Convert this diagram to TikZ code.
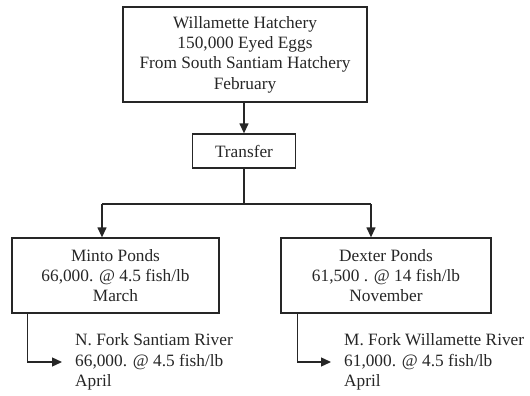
\documentclass[tikz,border=0pt]{standalone}
\usepackage{fontspec}
\setmainfont{Liberation Serif}
\usetikzlibrary{arrows.meta}
\begin{document}
\begin{tikzpicture}[x=1pt,y=1pt,
  font=\fontsize{17.3}{20.3}\selectfont,
  box/.style={draw=black!85, line width=1.3pt, align=center, inner sep=0pt, text=black!85},
  ltxt/.style={align=left, inner xsep=13pt, inner ysep=0pt, anchor=west, text=black!85},
  link/.style={draw=black!85, line width=1.3pt},
  arr/.style={link, -{Triangle[length=10pt,width=9pt]}}]
  \useasboundingbox (0,0) rectangle (530,-396);

  % hatchery and transfer
  \node[box, minimum width=244, minimum height=95] (hatch) at (245,-54.5)
    {Willamette Hatchery\\150,000 Eyed Eggs\\From South Santiam Hatchery\\February};
  \node[box, minimum width=103, minimum height=34] (transfer) at (244,-151) {Transfer};

  % rearing ponds
  \node[box, minimum width=207, minimum height=75] (minto) at (115.5,-275.5)
    {Minto Ponds\\66,000. @ 4.5 fish/lb\\March};
  \node[box, minimum width=210, minimum height=75] (dexter) at (386,-275.5)
    {Dexter Ponds\\61,500 . @ 14 fish/lb\\November};

  % release sites
  \node[ltxt] (nfork) at (62,-362) {N. Fork Santiam River\\66,000. @ 4.5 fish/lb\\April};
  \node[ltxt] (mfork) at (331,-362) {M. Fork Willamette River\\61,000. @ 4.5 fish/lb\\April};

  % split points
  \coordinate (split) at (244,-204);
  \coordinate (splitL) at (102,-204);
  \coordinate (splitR) at (371,-204);

  % connectors
  \draw[arr] (hatch.south -| transfer.north) -- (transfer.north);
  \draw[link] (transfer.south) -- (split);
  \draw[link] (splitL) -- (splitR);
  \draw[arr] (splitL) -- (splitL |- minto.north);
  \draw[arr] (splitR) -- (splitR |- dexter.north);
  \draw[arr] ([xshift=16pt]minto.south west) |- (nfork.west);
  \draw[arr] ([xshift=17pt]dexter.south west) |- (mfork.west);
\end{tikzpicture}
\end{document}
